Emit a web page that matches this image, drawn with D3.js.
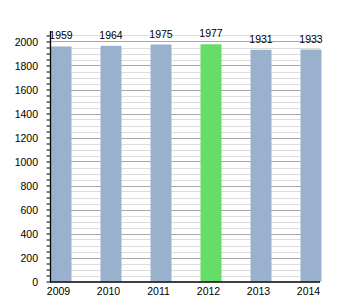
<!DOCTYPE html>
<html><head><meta charset="utf-8">
<script src="https://cdn.jsdelivr.net/npm/d3@7"></script>
<style>body{margin:0;background:#fff}svg{display:block}text{font-family:"Liberation Sans",Arial,sans-serif;font-size:10.5px;fill:#000}</style>
</head><body><svg id="c" width="350" height="300"></svg>
<script>
const years = ["2009","2010","2011","2012","2013","2014"];
const population = [1959,1964,1975,1977,1931,1933];
const highlight = ["2012"];
const yTicks = [0,200,400,600,800,1000,1200,1400,1600,1800,2000];

const svg = d3.select("#c");
const x = d3.scaleBand().domain(years).range([36,336]).paddingInner(0.58).paddingOuter(0.29);
const y = d3.scaleLinear().domain([0,2080]).range([281.5,31.9]);
const left = 50.5, right = 320;

const minor = d3.range(0,2051,50);
svg.append("g").selectAll("line").data(minor.filter(v=>v%200!==0)).join("line")
  .attr("x1",left).attr("x2",right).attr("y1",d=>Math.round(y(d))+0.5).attr("y2",d=>Math.round(y(d))+0.5)
  .attr("stroke","#dcdcdc").attr("stroke-width",1);
svg.append("g").selectAll("line").data(yTicks.filter(v=>v>0)).join("line")
  .attr("x1",left).attr("x2",right).attr("y1",d=>Math.round(y(d))+0.5).attr("y2",d=>Math.round(y(d))+0.5)
  .attr("stroke","#a8a8a8").attr("stroke-width",1);

svg.append("g").selectAll("rect").data(years).join("rect")
  .attr("x",d=>x(d)).attr("width",x.bandwidth())
  .attr("y",(d,i)=>y(population[i])).attr("height",(d,i)=>y(0)-y(population[i]))
  .attr("fill",d=>highlight.includes(d)?"#66dd66":"#99b1cd");

svg.append("g").selectAll("text").data(years).join("text")
  .attr("x",d=>x(d)+x.bandwidth()/2).attr("y",(d,i)=>y(population[i])-7)
  .attr("text-anchor","middle").text((d,i)=>population[i]);

// y axis
const yAxis = d3.axisLeft(y).tickValues(minor).tickSize(4).tickFormat("");
const ga = svg.append("g").attr("transform",`translate(${left},0)`).call(yAxis);
ga.select(".domain").remove();
ga.selectAll("line").attr("stroke","#000");
svg.append("line").attr("x1",left).attr("x2",left).attr("y1",31).attr("y2",282).attr("stroke","#000").attr("stroke-width",1.3);
svg.append("g").selectAll("text").data(yTicks).join("text")
  .attr("x",38).attr("y",d=>y(d)+4).attr("text-anchor","end").text(d=>d);

// x axis
svg.append("line").attr("x1",left-0.5).attr("x2",right).attr("y1",282).attr("y2",282).attr("stroke","#000").attr("stroke-width",1.3);
svg.append("g").selectAll("text").data(years).join("text")
  .attr("x",d=>x(d)+x.bandwidth()/2-2.5).attr("y",294.5).attr("text-anchor","middle").text(d=>d);
</script></body></html>
